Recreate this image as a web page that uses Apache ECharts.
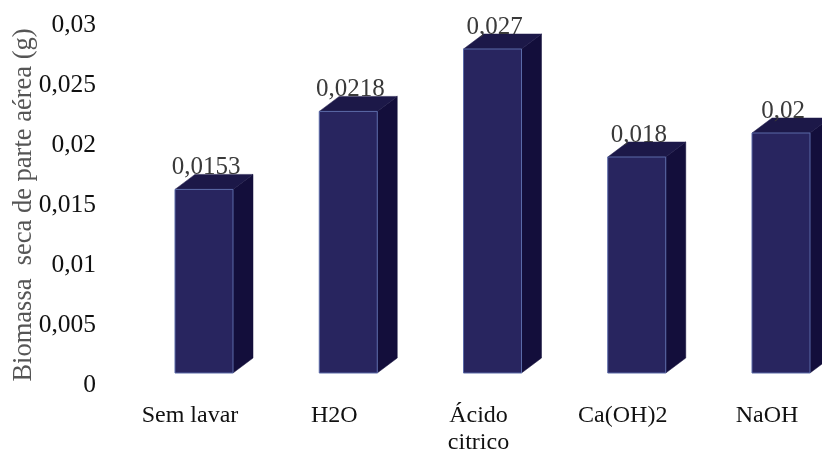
<!DOCTYPE html>
<html>
<head>
<meta charset="utf-8">
<script src="https://cdn.jsdelivr.net/npm/echarts@6/dist/echarts.min.js"></script>
<style>
  html, body { margin: 0; padding: 0; background: #ffffff; }
  #chart { width: 822px; height: 457px; }
</style>
</head>
<body>
<div id="chart"></div>
<script>
// Treatments and measured dry shoot biomass (g)
const categories = ['Sem lavar', 'H2O', 'Ácido\ncitrico', 'Ca(OH)2', 'NaOH'];
const biomassValues = [0.0153, 0.0218, 0.027, 0.018, 0.02];
const yTickLabels = ['0', '0,005', '0,01', '0,015', '0,02', '0,025', '0,03'];

// Pseudo-3D column geometry (pixels)
const FRONT_W = 58;   // width of the front face
const DEPTH_X = 20;   // horizontal depth of top/side faces
const DEPTH_Y = 15;   // vertical depth of top/side faces
const SHIFT_X = 14;   // front face offset from category centre
const SHIFT_Y = -12;  // floor raised above the tick baseline

const FONT = 'Liberation Serif, Times New Roman, serif';

const chart = echarts.init(document.getElementById('chart'), null, { renderer: 'canvas' });

function fmt(v) { return String(v).replace('.', ','); }

chart.setOption({
  animation: false,
  backgroundColor: '#ffffff',
  textStyle: { fontFamily: FONT },
  // categories sit on the tick positions, first and last at the grid edges
  grid: { left: 190, top: 25, width: 577, height: 360, containLabel: false, outerBoundsMode: 'none' },
  xAxis: {
    type: 'category',
    data: categories,
    boundaryGap: false,
    axisLine: { show: false },
    axisTick: { show: false },
    axisLabel: {
      interval: 0,
      margin: 17,
      color: '#111111',
      fontFamily: FONT,
      fontSize: 24,
      lineHeight: 27
    }
  },
  yAxis: {
    type: 'value',
    min: 0,
    max: 0.03,
    interval: 0.005,
    name: 'Biomassa  seca de parte aérea (g)',
    nameLocation: 'middle',
    nameRotate: 90,
    nameGap: 152,
    nameMoveOverlap: false,
    nameTextStyle: { color: '#555555', fontFamily: FONT, fontSize: 26.5 },
    axisLine: { show: false },
    axisTick: { show: false },
    splitLine: { show: false },
    axisLabel: {
      margin: 94,
      color: '#111111',
      fontFamily: FONT,
      fontSize: 25.5,
      formatter: function (v, idx) { return yTickLabels[idx]; }
    }
  },
  series: [{
    type: 'custom',
    clip: false,
    data: biomassValues.map(function (v, i) { return [i, v]; }),
    renderItem: function (params, api) {
      const idx = api.value(0);
      const val = api.value(1);
      const base = api.coord([idx, 0]);
      const top = api.coord([idx, val]);
      const cx = base[0] + SHIFT_X;
      const y0 = base[1] + SHIFT_Y;
      const y1 = top[1] + SHIFT_Y;
      const L = cx - FRONT_W / 2;
      const R = cx + FRONT_W / 2;
      return {
        type: 'group',
        children: [
          {
            type: 'polygon',
            shape: { points: [[R, y1], [R + DEPTH_X, y1 - DEPTH_Y], [R + DEPTH_X, y0 - DEPTH_Y], [R, y0]] },
            style: { fill: '#130e3b', stroke: '#130e3b', lineWidth: 0.5 }
          },
          {
            type: 'polygon',
            shape: { points: [[L, y1], [R, y1], [R + DEPTH_X, y1 - DEPTH_Y], [L + DEPTH_X, y1 - DEPTH_Y]] },
            style: { fill: '#1c1848', stroke: '#1c1848', lineWidth: 0.5 }
          },
          {
            type: 'rect',
            shape: { x: L, y: y1, width: FRONT_W, height: y0 - y1 },
            style: { fill: '#28255f', stroke: '#5a6aa8', lineWidth: 1 }
          },
          {
            type: 'text',
            x: cx + 2,
            y: y1 - DEPTH_Y + 6,
            style: {
              text: fmt(val),
              fill: '#3a3a3a',
              font: '25px ' + FONT,
              textAlign: 'center',
              textVerticalAlign: 'bottom',
              shadowColor: 'rgba(0,0,0,0.35)',
              shadowBlur: 2
            }
          }
        ]
      };
    }
  }]
});
</script>
</body>
</html>
